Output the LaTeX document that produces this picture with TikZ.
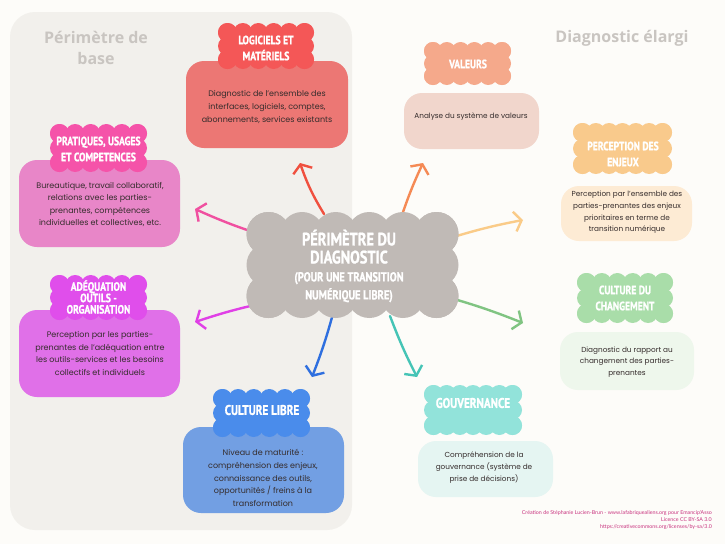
\documentclass[tikz,border=0pt]{standalone}
\usepackage{fontspec}
\setmainfont{Poppins}
\newfontfamily\bebas[FakeStretch=0.8,FakeBold=1.2]{PT Sans Bold}
\newfontfamily\headfont{Open Sans}
\newfontfamily\credfont{Lato}
\usetikzlibrary{arrows.meta}
\definecolor{bgc}{HTML}{FDFCF9}
\definecolor{panelc}{HTML}{F2F0EC}
\definecolor{headc}{HTML}{C9C5C1}
\definecolor{txt}{HTML}{352C2C}
\definecolor{credc}{HTML}{C8327E}
\definecolor{logC}{HTML}{F45757}\definecolor{logB}{HTML}{EC7774}\definecolor{logA}{HTML}{F0503F}
\definecolor{praC}{HTML}{F553A9}\definecolor{praB}{HTML}{E886C8}\definecolor{praA}{HTML}{F050A0}
\definecolor{adeC}{HTML}{E04EEB}\definecolor{adeB}{HTML}{E070E8}\definecolor{adeA}{HTML}{E040E6}
\definecolor{libC}{HTML}{4A8CEB}\definecolor{libB}{HTML}{729FE3}\definecolor{libA}{HTML}{2F6FDF}
\definecolor{valC}{HTML}{F5A98B}\definecolor{valB}{HTML}{F1D6CC}\definecolor{valA}{HTML}{F58A55}
\definecolor{enjC}{HTML}{F9CA8C}\definecolor{enjB}{HTML}{FDEBD4}\definecolor{enjA}{HTML}{FACB88}
\definecolor{chgC}{HTML}{A9DDA9}\definecolor{chgB}{HTML}{EEF7EC}\definecolor{chgA}{HTML}{80C482}
\definecolor{gouC}{HTML}{92E3DA}\definecolor{gouB}{HTML}{E5F5F2}\definecolor{gouA}{HTML}{45C4B6}
\definecolor{cenC}{HTML}{C0BAB6}
% puffy cloud: name, cx, cy, w, h, r, colour
\newcommand\puff[7]{%
  \pgfmathsetmacro\pfxa{#2-#4/2+#6}%
  \pgfmathsetmacro\pfxb{#2+#4/2-#6}%
  \pgfmathsetmacro\pfya{#3-#5/2+#6}%
  \pgfmathsetmacro\pfyb{#3+#5/2-#6}%
  \pgfmathtruncatemacro\pfn{max(1,round((\pfxb-\pfxa)/(1.5*#6)))}%
  \pgfmathtruncatemacro\pfm{max(1,round((\pfyb-\pfya)/(1.5*#6)))}%
  \fill[#7] ({#2-#4/2+0.5*#6},{#3-#5/2+0.5*#6}) rectangle ({#2+#4/2-0.5*#6},{#3+#5/2-0.5*#6});
  \foreach \i in {0,...,\pfn}{%
    \fill[#7] ({\pfxa+\i*(\pfxb-\pfxa)/\pfn},\pfya) circle[radius=#6pt];
    \fill[#7] ({\pfxa+\i*(\pfxb-\pfxa)/\pfn},\pfyb) circle[radius=#6pt];}
  \foreach \j in {0,...,\pfm}{%
    \fill[#7] (\pfxa,{\pfya+\j*(\pfyb-\pfya)/\pfm}) circle[radius=#6pt];
    \fill[#7] (\pfxb,{\pfya+\j*(\pfyb-\pfya)/\pfm}) circle[radius=#6pt];}
  \node[inner sep=0pt, minimum width=#4pt, minimum height=#5pt] (#1) at (#2,#3) {};
}
\tikzset{
  body/.style={font=\fontsize{8}{12.6}\selectfont, text=txt, align=center, inner sep=0pt},
  bodyR/.style={body, font=\fontsize{7.3}{11.6}\selectfont},
  cloudtxt/.style={font=\bebas\fontsize{12}{16}\selectfont, text=white, align=center, inner sep=0pt},
  card/.style={rounded corners=18pt, inner sep=0pt},
  arr/.style={line width=2.4pt, line cap=round, line join=round, -{Straight Barb[length=7pt,width=20pt]}},
  headtxt/.style={font=\headfont\bfseries\fontsize{16}{21}\selectfont, text=headc, align=center},
}
\newcommand\bigc{\fontsize{18}{18}\selectfont}
\newcommand\smallc{\fontsize{13}{13.5}\selectfont}
\begin{document}
\begin{tikzpicture}[x=1pt,y=-1pt]
\useasboundingbox (0,0) rectangle (725,544);
\fill[bgc] (0,0) rectangle (725,544);
\fill[panelc, rounded corners=25pt] (10,12) rectangle (352,530);
\node[headtxt] (hbase) at (96,48) {Périmètre de\\base};
\node[headtxt] (hel) at (622,38) {Diagnostic élargi};

% boxes
\node[card, fill=logB, minimum width=162pt, minimum height=87pt] (bLog) at (267,104.5) {};
\node[card, fill=praB, minimum width=161pt, minimum height=87pt] (bPra) at (99.5,203.5) {};
\node[card, fill=adeB, minimum width=161pt, minimum height=87pt] (bAde) at (99.5,353.5) {};
\node[card, fill=libB, minimum width=161pt, minimum height=86pt] (bLib) at (263.5,470) {};
\node[card, fill=valB, minimum width=135pt, minimum height=56pt] (bVal) at (471.5,121) {};
\node[card, fill=enjB, minimum width=131pt, minimum height=55pt] (bEnj) at (626.5,213.5) {};
\node[card, fill=chgB, minimum width=134pt, minimum height=58pt] (bChg) at (627,361) {};
\node[card, fill=gouB, minimum width=135pt, minimum height=56pt] (bGou) at (485.5,469) {};

\node[body] (tLog) at (267,107) {Diagnostic de l'ensemble des\\interfaces, logiciels, comptes,\\abonnements, services existants};
\node[body] (tPra) at (100,204.5) {Bureautique, travail collaboratif,\\relations avec les parties-\\prenantes, compétences\\individuelles et collectives, etc.};
\node[body] (tAde) at (100,353.5) {Perception par les parties-\\prenantes de l'adéquation entre\\les outils-services et les besoins\\collectifs et individuels};
\node[body] (tLib) at (263,478) {Niveau de maturité :\\compréhension des enjeux,\\connaissance des outils,\\opportunités / freins à la\\transformation};
\node[bodyR] (tVal) at (471,117) {Analyse du système de valeurs};
\node[bodyR] (tEnj) at (627,212.5) {Perception par l'ensemble des\\parties-prenantes des enjeux\\prioritaires en terme de\\transition numérique};
\node[bodyR] (tChg) at (627,362) {Diagnostic du rapport au\\changement des parties-\\prenantes};
\node[bodyR] (tGou) at (484,467.5) {Compréhension de la\\gouvernance (système de\\prise de décisions)};

% arrows
\coordinate (sLog) at (324,214); \coordinate (eLog) at (300,163);
\coordinate (sPra) at (262,235); \coordinate (ePra) at (195,209);
\coordinate (sAde) at (268,302); \coordinate (eAde) at (195,322);
\coordinate (sLib) at (334,310); \coordinate (eLib) at (312,377);
\coordinate (sVal) at (402,215); \coordinate (eVal) at (423,163);
\coordinate (sEnj) at (450,238); \coordinate (eEnj) at (523,220);
\coordinate (sChg) at (440,295); \coordinate (eChg) at (523,323);
\coordinate (sGou) at (390,316); \coordinate (eGou) at (417,377);
\draw[arr, logA] (sLog) to[bend left=6] (eLog);
\draw[arr, praA] (sPra) to[bend left=3] (ePra);
\draw[arr, adeA] (sAde) to[bend right=3] (eAde);
\draw[arr, libA] (sLib) to[bend left=3] (eLib);
\draw[arr, valA] (sVal) to[bend left=3] (eVal);
\draw[arr, enjA] (sEnj) to[bend left=3] (eEnj);
\draw[arr, chgA] (sChg) to[bend left=3] (eChg);
\draw[arr, gouA] (sGou) to[bend right=3] (eGou);

% clouds
\puff{cCen}{352.5}{265}{212}{106}{22}{cenC}
\node[cloudtxt, font=\bebas\bigc] (tCen) at (349,266)
  {\bigc PÉRIMÈTRE DU\\\bigc DIAGNOSTIC\\\smallc (POUR UNE TRANSITION\\\smallc NUMÉRIQUE LIBRE)};
\puff{cLog}{266}{46}{96}{46}{9.5}{logC}
\node[cloudtxt] (lLog) at (266,48) {LOGICIELS ET\\MATÉRIELS};
\puff{cPra}{98.5}{148}{97}{48}{9.5}{praC}
\node[cloudtxt] (lPra) at (98.5,149) {PRATIQUES, USAGES\\ET COMPETENCES};
\puff{cAde}{98.5}{297.5}{97}{45}{9.5}{adeC}
\node[cloudtxt, font=\bebas\fontsize{12}{11.4}\selectfont] (lAde) at (98.5,297) {ADÉQUATION\\OUTILS -\\ORGANISATION};
\puff{cLib}{261.5}{413}{97}{48}{9.5}{libC}
\node[cloudtxt, font=\bebas\fontsize{14}{16}\selectfont] (lLib) at (262,410) {CULTURE LIBRE};
\puff{cVal}{467.5}{63.5}{87}{43}{9}{valC}
\node[cloudtxt] (lVal) at (468,64) {VALEURS};
\puff{cEnj}{622.5}{148.5}{99}{51}{9.5}{enjC}
\node[cloudtxt] (lEnj) at (623,154) {PERCEPTION DES\\ENJEUX};
\puff{cChg}{625}{298}{96}{50}{9.5}{chgC}
\node[cloudtxt] (lChg) at (625,298) {CULTURE DU\\CHANGEMENT};
\puff{cGou}{473}{410}{98}{50}{9.5}{gouC}
\node[cloudtxt, font=\bebas\fontsize{14}{16}\selectfont] (lGou) at (473,403) {GOUVERNANCE};

% credits
\node[font=\credfont\fontsize{5.3}{7.2}\selectfont, text=credc, align=right, anchor=north east, inner sep=0pt] (cred) at (712,510)
  {Création de Stéphanie Lucien-Brun - www.lafabriquealiens.org pour Emancip'Asso\\Licence CC BY-SA 3.0\\https://creativecommons.org/licenses/by-sa/3.0};
\end{tikzpicture}
\end{document}
